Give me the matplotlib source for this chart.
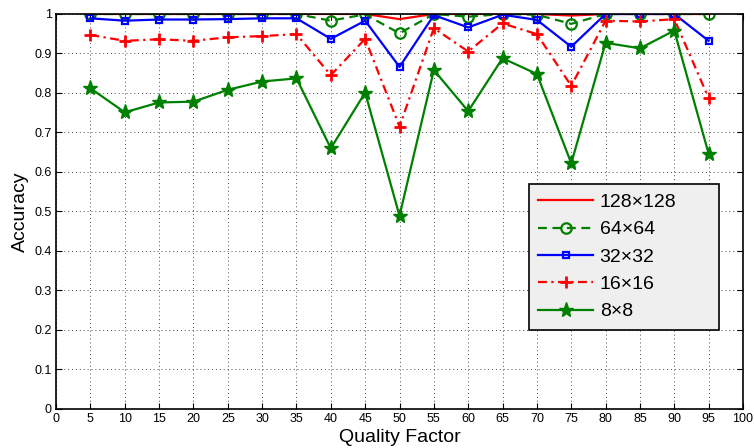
import numpy as np
import matplotlib
matplotlib.use("Agg")
import matplotlib.pyplot as plt

plt.rcParams['font.family'] = ['Liberation Sans', 'DejaVu Sans']

# quality factors
qf = [5, 10, 15, 20, 25, 30, 35, 40, 45, 50, 55, 60, 65, 70, 75, 80, 85, 90, 95]

acc_128 = [1.0, 1.0, 1.0, 1.0, 1.0, 1.0, 1.0, 1.0, 1.0, 0.987, 1.0, 1.0, 1.0, 1.0, 0.996, 1.0, 1.0, 1.0, 1.0]
acc_64 = [1.0, 1.0, 1.0, 1.0, 1.0, 1.0, 1.0, 0.983, 0.999, 0.951, 1.0, 0.993, 1.0, 0.998, 0.975, 1.0, 1.0, 1.0, 1.0]
acc_32 = [0.989, 0.983, 0.986, 0.986, 0.987, 0.989, 0.989, 0.937, 0.983, 0.866, 0.997, 0.966, 0.998, 0.985, 0.917, 1.0, 1.0, 1.0, 0.932]
acc_16 = [0.947, 0.932, 0.936, 0.932, 0.941, 0.944, 0.949, 0.845, 0.937, 0.715, 0.964, 0.905, 0.976, 0.949, 0.818, 0.983, 0.981, 0.987, 0.787]
acc_8 = [0.812, 0.751, 0.776, 0.778, 0.808, 0.829, 0.837, 0.660, 0.801, 0.489, 0.858, 0.754, 0.888, 0.848, 0.622, 0.927, 0.913, 0.958, 0.646]

labels = ['128\u00d7128', '64\u00d764', '32\u00d732', '16\u00d716', '8\u00d78']

green = (0, 0.5, 0)

fig = plt.figure(figsize=(7.54, 4.48), dpi=100)
ax = fig.add_axes([0.0743, 0.0871, 0.9111, 0.8817])

ax.plot(qf, acc_128, color='red', lw=1.6, label=labels[0])
ax.plot(qf, acc_64, color=green, lw=1.6, ls=(0, (4, 2.5)), marker='o', ms=7.5,
        mfc='none', mew=1.6, label=labels[1])
ax.plot(qf, acc_32, color='blue', lw=1.6, marker='s', ms=5, mfc='none', mew=1.6,
        label=labels[2])
ax.plot(qf, acc_16, color='red', lw=1.6, ls=(0, (4, 2, 1, 2)), marker='+', ms=8,
        mew=2, label=labels[3])
ax.plot(qf, acc_8, color=green, lw=1.6, marker='*', ms=11, label=labels[4])

ax.set_xlim(0, 100)
ax.set_ylim(0, 1)
ax.set_xticks(np.arange(0, 101, 5))
ax.set_yticks(np.arange(0, 1.01, 0.1))
ax.set_yticklabels(['0', '0.1', '0.2', '0.3', '0.4', '0.5', '0.6', '0.7', '0.8', '0.9', '1'])
ax.tick_params(direction='in', top=True, right=True, labelsize=9, length=4, pad=3)
ax.grid(True, ls=(0, (1, 3)), color='black', lw=0.7, alpha=0.7)
for s in ax.spines.values():
    s.set_linewidth(1.2)

ax.set_xlabel('Quality Factor', fontsize=14, labelpad=3)
ax.set_ylabel('Accuracy', fontsize=14, labelpad=4)

# MATLAB-style legend box, wider than its contents
leg = ax.legend(loc='upper left', bbox_to_anchor=(0.688, 0.0, 0.2766, 0.57),
                mode='expand', borderaxespad=0,
                fontsize=14, handlelength=2.8, fancybox=False, framealpha=1,
                edgecolor='black', facecolor='#efefef', labelspacing=0.5,
                borderpad=0.5, handletextpad=0.35)
leg.get_frame().set_linewidth(1.2)

fig.savefig('out.png', dpi=100)
